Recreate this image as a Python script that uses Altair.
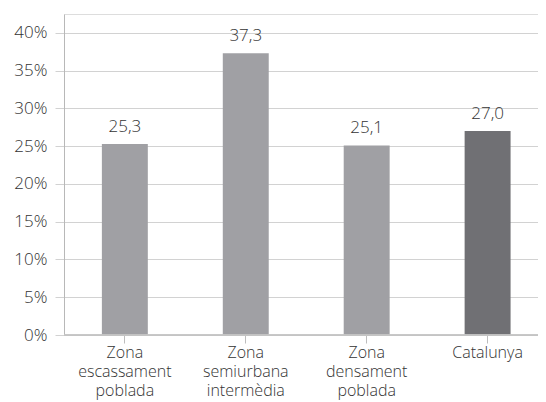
import altair as alt
import pandas as pd

categories = ["Zona escassament poblada", "Zona semiurbana intermèdia", "Zona densament poblada", "Catalunya"]
values = [25.3, 37.3, 25.1, 27.0]
groups = ["zona", "zona", "zona", "total"]
y_ticks = [0, 5, 10, 15, 20, 25, 30, 35, 40]

df = pd.DataFrame({"cat": categories, "value": values, "group": groups})

FONT = "Open Sans"
TXT = "#333333"
FS = 17

x_enc = alt.X(
    "cat:N",
    sort=categories,
    scale=alt.Scale(paddingInner=0.62, paddingOuter=0.27, align=0.58),
    axis=alt.Axis(
        title=None,
        labelAngle=0,
        labelExpr="split(datum.label, ' ')",
        labelLineHeight=19,
        labelFontSize=16,
        labelFont=FONT,
        labelFontWeight=300,
        labelColor=TXT,
        labelPadding=1,
        domain=False,
        ticks=True,
        tickSize=8,
        tickColor="#bdbdbd",
        grid=False,
    ),
)

y_scale = alt.Scale(domain=[0, 42.5], nice=False, zero=True)

bars = alt.Chart(df).mark_bar().encode(
    x=x_enc,
    y=alt.Y(
        "value:Q",
        scale=y_scale,
        axis=alt.Axis(
            title=None,
            values=y_ticks,
            labelExpr="datum.value + '%'",
            labelFontSize=FS,
            labelFont=FONT,
            labelFontWeight=300,
            labelColor=TXT,
            labelPadding=8,
            domain=True,
            domainColor="#b8b8b8",
            ticks=True,
            tickSize=9,
            tickColor="#d2d2d2",
            grid=True,
            gridColor="#d2d2d2",
        ),
    ),
    color=alt.Color(
        "group:N",
        scale=alt.Scale(domain=["zona", "total"], range=["#a0a0a4", "#707074"]),
        legend=None,
    ),
)

labels = alt.Chart(df).transform_calculate(
    txt="replace(format(datum.value, '.1f'), '.', ',')"
).mark_text(
    baseline="alphabetic", dy=-12, fontSize=FS, font=FONT, fontWeight=300, color=TXT
).encode(
    x=alt.X("cat:N", sort=categories),
    y=alt.Y("value:Q", scale=y_scale),
    text="txt:N",
)

base = alt.Chart(df).mark_rule(color="#c4c4c4", strokeWidth=1).encode(
    y=alt.datum(0)
)

chart = alt.layer(bars, base, labels).properties(
    width=474,
    height=321,
    autosize=alt.AutoSizeParams(type="none"),
    padding={"left": 56, "top": 6, "right": 0, "bottom": 67},
).configure_view(stroke=None).configure(background="white")

chart.save("out.html", embed_options={"renderer": "svg", "actions": False})
